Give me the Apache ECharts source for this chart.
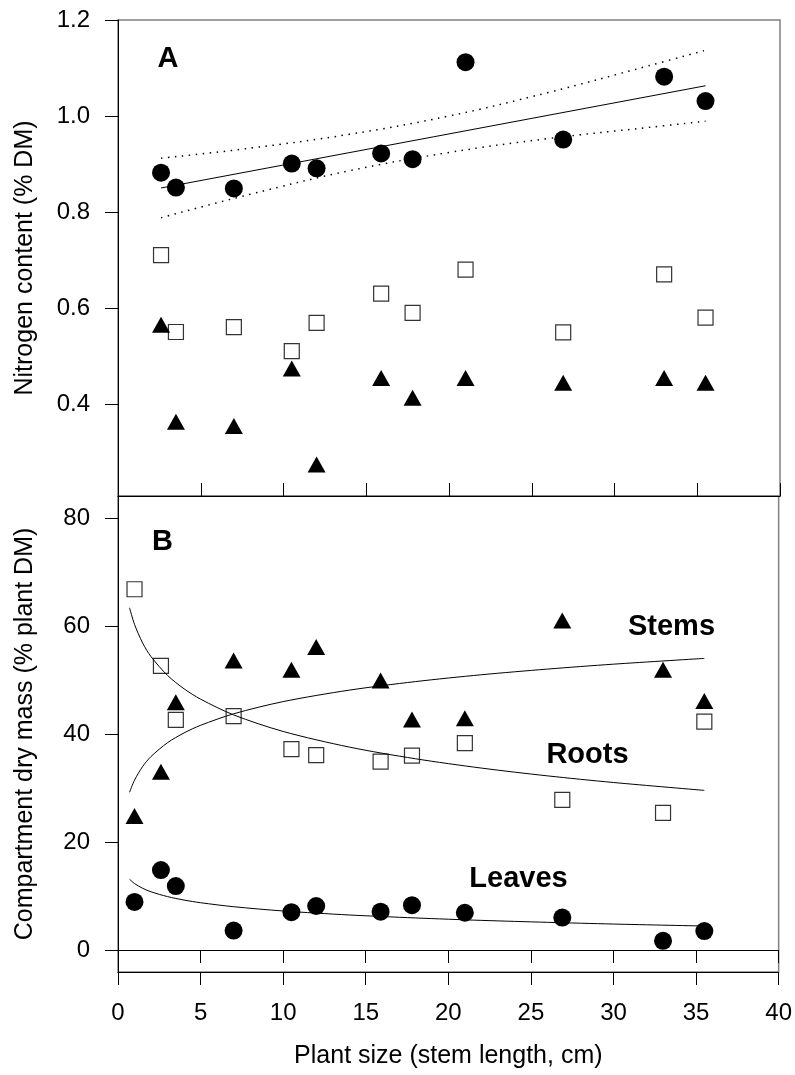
<!DOCTYPE html>
<html><head><meta charset="utf-8">
<script src="https://cdn.jsdelivr.net/npm/echarts@6/dist/echarts.min.js"></script>
<style>html,body{margin:0;padding:0;background:#fff}#c{width:795px;height:1075px}</style>
</head><body><div id="c"></div>
<script>
// ---- Panel A: nitrogen content (% DM) ----
const xA = [2.6, 3.5, 7.0, 10.5, 12.0, 15.9, 17.8, 21.0, 26.9, 33.0, 35.5];
const nLeaves = [0.882, 0.851, 0.849, 0.901, 0.891, 0.922, 0.910, 1.112, 0.951, 1.082, 1.031];
const nRoots  = [0.710, 0.550, 0.560, 0.510, 0.569, 0.630, 0.590, 0.680, 0.549, 0.670, 0.580];
const nStems  = [0.565, 0.363, 0.354, 0.474, 0.274, 0.454, 0.413, 0.454, 0.444, 0.454, 0.444];
// regression line and confidence band
const fitAX = [2.6, 35.5];
const fitAY = [0.850, 1.063];
const bandX = [2.6, 8, 14, 20, 26, 32, 35.5];
const bandUpper = [0.912, 0.933, 0.962, 1.000, 1.049, 1.104, 1.137];
const bandLower = [0.788, 0.837, 0.886, 0.924, 0.953, 0.976, 0.989];

// ---- Panel B: compartment dry mass (% plant DM) ----
const xB = [1.0, 2.6, 3.5, 7.0, 10.5, 12.0, 15.9, 17.8, 21.0, 26.9, 33.0, 35.5];
const leavesB = [8.9, 14.8, 11.85, 3.6, 7.0, 8.15, 7.1, 8.3, 6.9, 6.0, 1.7, 3.5];
const rootsB  = [66.8, 52.6, 42.6, 43.3, 37.2, 36.1, 34.9, 36.0, 38.3, 27.8, 25.4, 42.3];
const stemsB  = [24.8, 33.0, 45.9, 53.6, 51.9, 56.1, 49.9, 42.7, 42.9, 61.0, 51.9, 46.1];
// fitted curves
const fitBX = [0.7, 1, 1.5, 2, 3, 4, 5, 7, 10, 14, 18, 22, 26, 30, 35.5];
const fitRoots  = [63.37, 60.3, 56.81, 54.33, 50.84, 48.37, 46.45, 43.54, 40.47, 37.58, 35.42, 33.69, 32.25, 31.02, 29.56];
const fitStems  = [29.20, 31.45, 34.01, 35.83, 38.39, 40.20, 41.61, 43.74, 46.00, 48.12, 49.70, 50.97, 52.02, 52.93, 54.00];
const fitLeaves = [13.10, 12.31, 11.42, 10.78, 9.89, 9.25, 8.76, 8.02, 7.23, 6.49, 5.94, 5.49, 5.13, 4.81, 4.44];

// ticks
const xTicks = {min: 0, max: 40, interval: 5};
const yTicksA = [0.4, 0.6, 0.8, 1.0, 1.2];
const yTicksB = [0, 20, 40, 60, 80];

const FONT = 'Liberation Sans, Arial, Helvetica, sans-serif';
const zip = (xs, ys) => xs.map((x, i) => [x, ys[i]]);

const chart = echarts.init(document.getElementById('c'), null, {renderer: 'canvas'});

const blackLine = {show: true, lineStyle: {color: '#000', width: 1}};
const noSplit = {show: false};
const sq = {color: '#fff', borderColor: '#333', borderWidth: 1.2, opacity: 1};
const solid = {color: '#000', opacity: 1};

const option = {
  animation: false,
  backgroundColor: '#fff',
  grid: [
    {left: 118, top: 20, width: 662, height: 476, show: true, borderColor: '#808080', borderWidth: 1.5, backgroundColor: 'transparent'},
    {left: 118, top: 496, width: 662, height: 476, show: true, borderColor: '#808080', borderWidth: 1.5, backgroundColor: 'transparent'}
  ],
  xAxis: [
    {gridIndex: 0, type: 'value', min: xTicks.min, max: xTicks.max, interval: xTicks.interval, position: 'bottom',
     axisLine: blackLine, axisTick: {show: true, inside: true, length: 13, lineStyle: {color: '#000'}},
     axisLabel: {show: false}, splitLine: noSplit},
    {gridIndex: 1, type: 'value', min: xTicks.min, max: xTicks.max, interval: xTicks.interval, position: 'top',
     axisLine: blackLine, axisTick: {show: true, inside: true, length: 13, lineStyle: {color: '#000'}},
     axisLabel: {show: false}, splitLine: noSplit},
    {gridIndex: 1, type: 'value', min: xTicks.min, max: xTicks.max, interval: xTicks.interval, position: 'bottom',
     axisLine: blackLine, axisTick: {show: true, inside: false, length: 13, lineStyle: {color: '#000'}},
     axisLabel: {show: true, fontSize: 24, color: '#000', fontFamily: FONT, margin: 29},
     splitLine: noSplit,
     name: 'Plant size (stem length, cm)', nameLocation: 'middle', nameGap: 72,
     nameTextStyle: {fontSize: 25, color: '#000', fontFamily: FONT}}
  ],
  yAxis: [
    {gridIndex: 0, type: 'value', min: 0.2083, max: 1.2,
     axisLine: blackLine,
     axisTick: {show: true, inside: false, length: 13, customValues: yTicksA, lineStyle: {color: '#000'}},
     axisLabel: {show: true, customValues: yTicksA, formatter: v => v.toFixed(1), fontSize: 24, color: '#000', fontFamily: FONT, margin: 28},
     splitLine: noSplit,
     name: 'Nitrogen content (% DM)', nameLocation: 'middle', nameGap: 80, nameRotate: 90,
     nameTextStyle: {fontSize: 25, color: '#000', fontFamily: FONT}},
    {gridIndex: 1, type: 'value', min: -4.07, max: 84.07,
     axisLine: blackLine,
     axisTick: {show: true, inside: false, length: 13, customValues: yTicksB, lineStyle: {color: '#000'}},
     axisLabel: {show: true, customValues: yTicksB, fontSize: 24, color: '#000', fontFamily: FONT, margin: 28},
     splitLine: noSplit,
     name: 'Compartment dry mass (% plant DM)', nameLocation: 'middle', nameGap: 80, nameRotate: 90,
     nameTextStyle: {fontSize: 25, color: '#000', fontFamily: FONT}}
  ],
  series: [
    // Panel A scatter
    {type: 'scatter', xAxisIndex: 0, yAxisIndex: 0, data: zip(xA, nRoots), symbol: 'rect', symbolSize: 15,
     itemStyle: sq, z: 2},
    {type: 'scatter', xAxisIndex: 0, yAxisIndex: 0, data: zip(xA, nStems), symbol: 'triangle', symbolSize: [18, 16],
     itemStyle: solid, z: 2},
    {type: 'scatter', xAxisIndex: 0, yAxisIndex: 0, data: zip(xA, nLeaves), symbol: 'circle', symbolSize: 18,
     itemStyle: solid, z: 2},
    // Panel A lines
    {type: 'line', xAxisIndex: 0, yAxisIndex: 0, data: zip(fitAX, fitAY), showSymbol: false,
     lineStyle: {color: '#000', width: 1}, z: 3},
    {type: 'line', xAxisIndex: 0, yAxisIndex: 0, data: zip(bandX, bandUpper), showSymbol: false, smooth: 0.4,
     lineStyle: {color: '#000', width: 1.5, type: [1.5, 5.5]}, z: 3},
    {type: 'line', xAxisIndex: 0, yAxisIndex: 0, data: zip(bandX, bandLower), showSymbol: false, smooth: 0.4,
     lineStyle: {color: '#000', width: 1.5, type: [1.5, 5.5]}, z: 3},
    // Panel B scatter
    {type: 'scatter', xAxisIndex: 2, yAxisIndex: 1, data: zip(xB, rootsB), symbol: 'rect', symbolSize: 15,
     itemStyle: sq, z: 2},
    {type: 'scatter', xAxisIndex: 2, yAxisIndex: 1, data: zip(xB, stemsB), symbol: 'triangle', symbolSize: [18, 16],
     itemStyle: solid, z: 2},
    {type: 'scatter', xAxisIndex: 2, yAxisIndex: 1, data: zip(xB, leavesB), symbol: 'circle', symbolSize: 18,
     itemStyle: solid, z: 2},
    // Panel B curves
    {type: 'line', xAxisIndex: 2, yAxisIndex: 1, data: zip(fitBX, fitRoots), showSymbol: false, smooth: 0.3,
     lineStyle: {color: '#000', width: 1}, z: 3},
    {type: 'line', xAxisIndex: 2, yAxisIndex: 1, data: zip(fitBX, fitStems), showSymbol: false, smooth: 0.3,
     lineStyle: {color: '#000', width: 1}, z: 3},
    {type: 'line', xAxisIndex: 2, yAxisIndex: 1, data: zip(fitBX, fitLeaves), showSymbol: false, smooth: 0.3,
     lineStyle: {color: '#000', width: 1}, z: 3}
  ],
  graphic: [
    {type: 'text', x: 168, y: 59, style: {text: 'A', font: 'bold 29px ' + FONT, fill: '#000', align: 'center', verticalAlign: 'middle'}},
    {type: 'text', x: 162.5, y: 542, style: {text: 'B', font: 'bold 29px ' + FONT, fill: '#000', align: 'center', verticalAlign: 'middle'}},
    {type: 'text', x: 671.5, y: 627, style: {text: 'Stems', font: 'bold 29px ' + FONT, fill: '#000', align: 'center', verticalAlign: 'middle'}},
    {type: 'text', x: 587.5, y: 755, style: {text: 'Roots', font: 'bold 29px ' + FONT, fill: '#000', align: 'center', verticalAlign: 'middle'}},
    {type: 'text', x: 518.5, y: 878.5, style: {text: 'Leaves', font: 'bold 29px ' + FONT, fill: '#000', align: 'center', verticalAlign: 'middle'}}
  ]
};
chart.setOption(option);
</script></body></html>
